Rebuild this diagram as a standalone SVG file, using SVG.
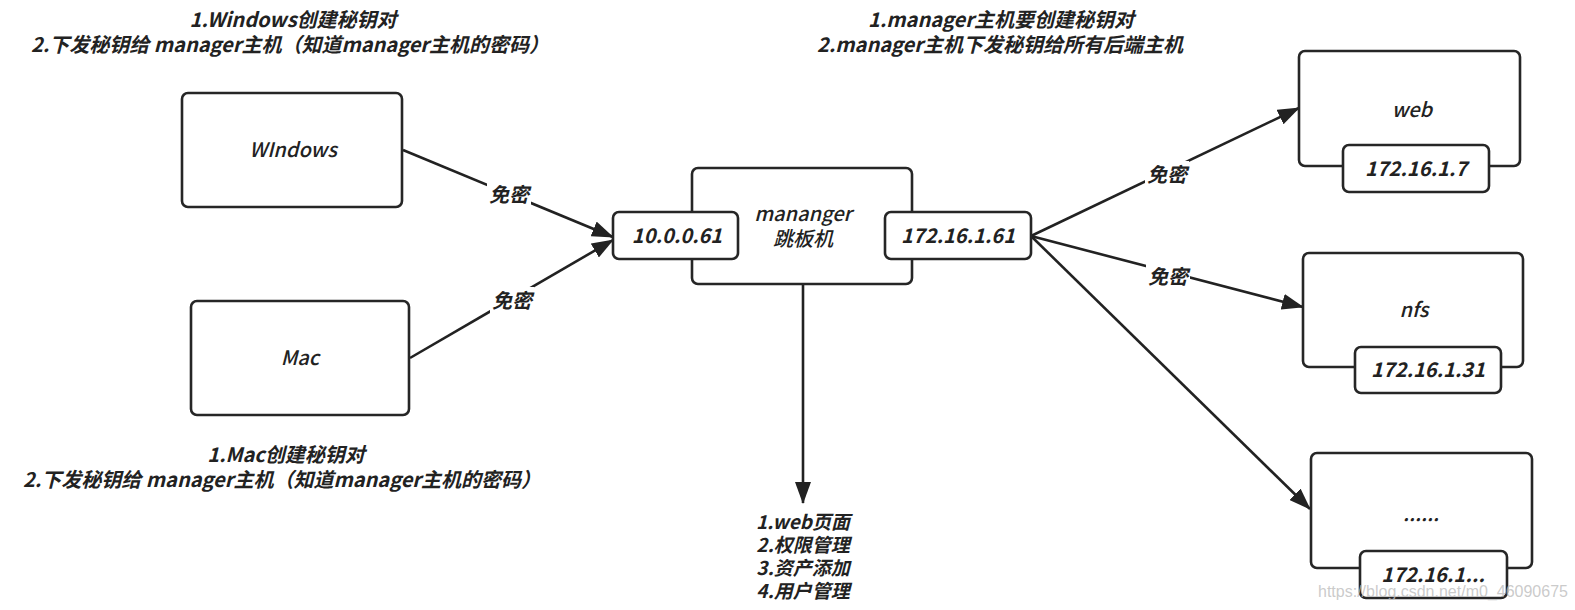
<svg xmlns="http://www.w3.org/2000/svg" width="1575" height="610" viewBox="0 0 1575 610">
  <style>
    text { font-family: "Noto Sans CJK SC", "Noto Sans", sans-serif; font-style: italic; fill: #222; text-anchor: middle; }
    .t { font-size: 20px; font-weight: bold; }
    .c { font-size: 19px; font-weight: bold; }
    .n { font-size: 20px; font-weight: 500; }
    .p { font-size: 20px; font-weight: bold; }
    .lbl { font-size: 20px; font-weight: bold; }
    .box { fill: #fff; stroke: #262626; stroke-width: 2.6; }
    .edge { stroke: #222; stroke-width: 2.6; fill: none; marker-end: url(#arr); }
    .wm { font-family: "Liberation Sans", Arial, sans-serif; font-style: normal; font-size: 16px; fill: #bdbdbd; fill-opacity: 0.8; text-anchor: start; }
  </style>
  <defs>
    <marker id="arr" viewBox="0 0 22 16" refX="21" refY="8" markerWidth="22" markerHeight="16" markerUnits="userSpaceOnUse" orient="auto">
      <path d="M0,0 L22,8 L0,16 z" fill="#222"/>
    </marker>
  </defs>
  <rect width="1575" height="610" fill="#fff"/>

  <g id="title-left">
    <text class="t" x="293" y="27">1.Windows创建秘钥对</text>
    <text class="t" x="290" y="52">2.下发秘钥给 manager主机（知道manager主机的密码）</text>
  </g>
  <g id="title-right">
    <text class="t" x="1001" y="27">1.manager主机要创建秘钥对</text>
    <text class="t" x="1000" y="52">2.manager主机下发秘钥给所有后端主机</text>
  </g>
  <g id="caption-mac">
    <text class="t" x="286" y="462">1.Mac创建秘钥对</text>
    <text class="t" x="282" y="487">2.下发秘钥给 manager主机（知道manager主机的密码）</text>
  </g>
  <g id="caption-manager">
    <text class="c" x="803" y="529">1.web页面</text>
    <text class="c" x="803" y="552">2.权限管理</text>
    <text class="c" x="803" y="575">3.资产添加</text>
    <text class="c" x="803" y="598">4.用户管理</text>
  </g>

  <g id="connectors">
    <line class="edge" x1="403" y1="150" x2="613" y2="237"/>
    <line class="edge" x1="410" y1="358" x2="613" y2="240"/>
    <line class="edge" x1="803" y1="284" x2="803" y2="503"/>
    <line class="edge" x1="1031" y1="236" x2="1299" y2="108"/>
    <line class="edge" x1="1031" y1="236" x2="1303" y2="307"/>
    <line class="edge" x1="1031" y1="236" x2="1310" y2="509"/>
    <rect x="487" y="181" width="44" height="28" fill="#fff"/>
    <text class="lbl" x="509" y="202">免密</text>
    <rect x="490" y="287" width="44" height="28" fill="#fff"/>
    <text class="lbl" x="512" y="308">免密</text>
    <rect x="1145" y="161" width="44" height="28" fill="#fff"/>
    <text class="lbl" x="1167" y="182">免密</text>
    <rect x="1146" y="263" width="44" height="28" fill="#fff"/>
    <text class="lbl" x="1168" y="284">免密</text>
  </g>

  <g id="windows">
    <rect class="box" x="182" y="93" width="220" height="114" rx="6"/>
    <text class="n" x="293" y="157">WIndows</text>
  </g>
  <g id="mac">
    <rect class="box" x="191" y="301" width="218" height="114" rx="6"/>
    <text class="n" x="300" y="365">Mac</text>
  </g>
  <g id="manager">
    <rect class="box" x="692" y="168" width="220" height="116" rx="6"/>
    <text class="n" x="803" y="221">mananger</text>
    <text class="n" x="803" y="246">跳板机</text>
    <rect class="box" x="613" y="212" width="125" height="47" rx="6"/>
    <text class="p" x="677" y="243">10.0.0.61</text>
    <rect class="box" x="885" y="212" width="146" height="47" rx="6"/>
    <text class="p" x="958" y="243">172.16.1.61</text>
  </g>
  <g id="web">
    <rect class="box" x="1299" y="51" width="221" height="115" rx="6"/>
    <text class="n" x="1412" y="117">web</text>
    <rect class="box" x="1343" y="145" width="146" height="47" rx="6"/>
    <text class="p" x="1416" y="176">172.16.1.7</text>
  </g>
  <g id="nfs">
    <rect class="box" x="1303" y="253" width="220" height="114" rx="6"/>
    <text class="n" x="1414" y="317">nfs</text>
    <rect class="box" x="1355" y="347" width="146" height="46" rx="6"/>
    <text class="p" x="1428" y="377">172.16.1.31</text>
  </g>
  <g id="more">
    <rect class="box" x="1311" y="453" width="221" height="115" rx="6"/>
    <text class="n" x="1421" y="521">......</text>
    <rect class="box" x="1360" y="551" width="147" height="47" rx="6"/>
    <text class="p" x="1433" y="582">172.16.1...</text>
  </g>
  <text class="wm" x="1318" y="597">https://blog.csdn.net/m0_46090675</text>
</svg>
